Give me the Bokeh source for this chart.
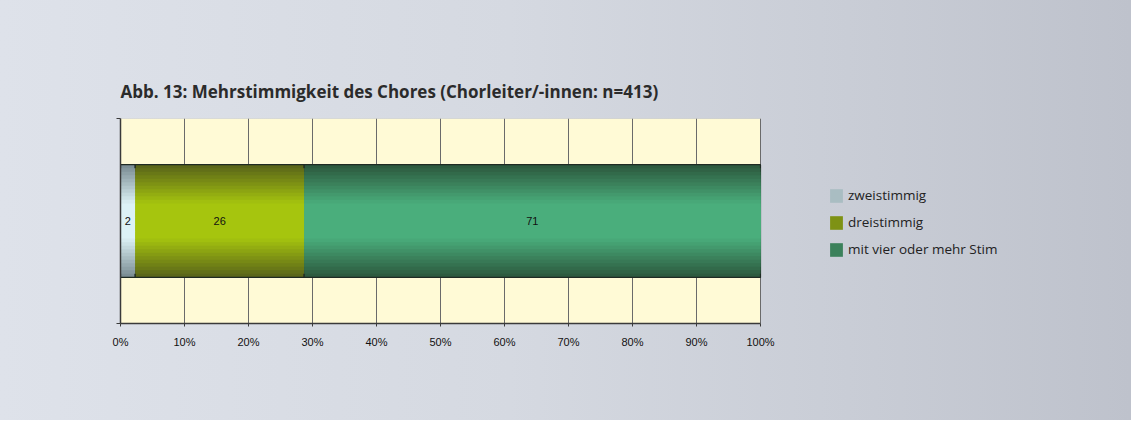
from bokeh.plotting import figure
from bokeh.models import (Range1d, FixedTicker, Legend, LegendItem, ColumnDataSource,
                          BoxAnnotation)
from bokeh.core.properties import value
from bokeh.embed import file_html
from bokeh.resources import INLINE

# ---------------- data ----------------
title_text = "Abb. 13: Mehrstimmigkeit des Chores (Chorleiter/-innen: n=413)"
series_names = ["zweistimmig", "dreistimmig", "mit vier oder mehr Stim"]
shares = [2.3, 26.4, 71.3]          # percent of choir leaders
share_labels = ["2", "26", "71"]
x_ticks = [0, 10, 20, 30, 40, 50, 60, 70, 80, 90, 100]
x_tick_labels = ["0%", "10%", "20%", "30%", "40%", "50%", "60%", "70%", "80%", "90%", "100%"]

# ---------------- styles ----------------
edge_colors = ["#7c8e95", "#5b6619", "#2d5a3f"]
center_colors = ["#dcf2f6", "#a6c50e", "#4aae7c"]
bar_height = 0.55
n_layers = 16

def hex2rgb(h):
    h = h.lstrip("#")
    return tuple(int(h[i:i + 2], 16) for i in (0, 2, 4))

def mix(c1, c2, m):
    a, b = hex2rgb(c1), hex2rgb(c2)
    return "#%02x%02x%02x" % tuple(int(round(a[k] * m + b[k] * (1 - m))) for k in range(3))

lefts, rights = [], []
acc = 0.0
for s in shares:
    lefts.append(acc)
    acc += s
    rights.append(acc)
mids = [(l + r) / 2 for l, r in zip(lefts, rights)]

W, H = 1131, 420
LEFT, TOP, BOTTOM = 120, 118, 97
PLOT_W = 640                      # pixel width of the 0..100 % area
x_end = 100 * (W - LEFT) / PLOT_W  # frame extends to the right to hold the legend

p = figure(width=W, height=H, output_backend="svg", toolbar_location=None,
           x_range=Range1d(0, x_end), y_range=Range1d(-0.5, 0.5),
           min_border_left=LEFT, min_border_right=0, min_border_top=TOP,
           min_border_bottom=BOTTOM)
p.styles = {"background": "linear-gradient(90deg, #dee2ea 0%, #d5d9e1 45%, #c9cdd6 75%, #bec2cc 100%)"}
p.border_fill_color = None
p.background_fill_color = None
p.outline_line_color = None

# plot area (0..100 %)
p.add_layout(BoxAnnotation(left=0, right=100, bottom=-0.5, top=0.5,
                           fill_color="#fffad6", fill_alpha=1,
                           line_color="#9c9c9c", line_width=1, level="image"))

p.title.text = title_text
p.title.text_font = "Open Sans"
p.title.text_font_size = "17px"
p.title.text_font_style = "bold"
p.title.text_color = "#2b2b2b"
p.title.align = "left"
p.title.standoff = 31

# grid
p.ygrid.grid_line_color = None
p.xgrid.ticker = FixedTicker(ticks=x_ticks)
p.xgrid.grid_line_color = "#6a6a6a"
p.xgrid.grid_line_width = 1

# axes
p.xaxis.ticker = FixedTicker(ticks=x_ticks)
p.xaxis.bounds = (0, 100)
p.xaxis.major_label_overrides = {t: l for t, l in zip(x_ticks, x_tick_labels)}
p.xaxis.major_label_text_font = "Liberation Sans"
p.xaxis.major_label_text_font_size = "11px"
p.xaxis.major_label_text_color = "#111111"
p.xaxis.major_label_standoff = 9
p.xaxis.major_tick_in = 0
p.xaxis.major_tick_out = 3
p.xaxis.minor_tick_line_color = None
p.xaxis.axis_line_color = "#3a3a3a"
p.xaxis.axis_line_width = 1.5
p.xaxis.major_tick_line_color = "#3a3a3a"

p.yaxis.ticker = FixedTicker(ticks=[-0.5, 0.5])
p.yaxis.major_label_overrides = {-0.5: "", 0.5: ""}
p.yaxis.major_tick_in = 0
p.yaxis.major_tick_out = 4
p.yaxis.minor_tick_line_color = None
p.yaxis.axis_line_color = "#3a3a3a"
p.yaxis.axis_line_width = 1.5
p.yaxis.major_tick_line_color = "#3a3a3a"

# bars with vertical gradient (nested layers, from edge to centre)
renderers = []
for i in range(n_layers):
    s = 1 - i / n_layers
    m = max(0.0, (s - 0.33) / 0.67)
    cols = [mix(e, c, m) for e, c in zip(edge_colors, center_colors)]
    src = ColumnDataSource(dict(y=[0] * len(shares), left=lefts, right=rights,
                                color=cols))
    r = p.hbar(y="y", left="left", right="right", height=bar_height * s,
               source=src, fill_color="color",
               line_color="#1f2a22" if i == 0 else None,
               line_width=1.2)
    renderers.append(r)

# value labels
p.text(x=mids, y=[0] * len(mids), text=share_labels,
       text_font=value("Liberation Sans"), text_font_size="11px",
       text_color="#111111", text_align="center", text_baseline="middle")

# legend
leg_r = renderers[n_layers // 3]
items = [LegendItem(label=name, renderers=[leg_r], index=i)
         for i, name in enumerate(series_names)]
legend = Legend(items=items, location=(708, 65), orientation="vertical",
                glyph_width=16, glyph_height=17, spacing=9, label_standoff=4,
                padding=0, margin=0, border_line_color=None,
                background_fill_alpha=0, label_text_font="Open Sans",
                label_text_font_size="13.5px", label_text_color="#222222",
                label_height=17)
p.add_layout(legend, "center")

open("out.html", "w").write(file_html(p, INLINE))
